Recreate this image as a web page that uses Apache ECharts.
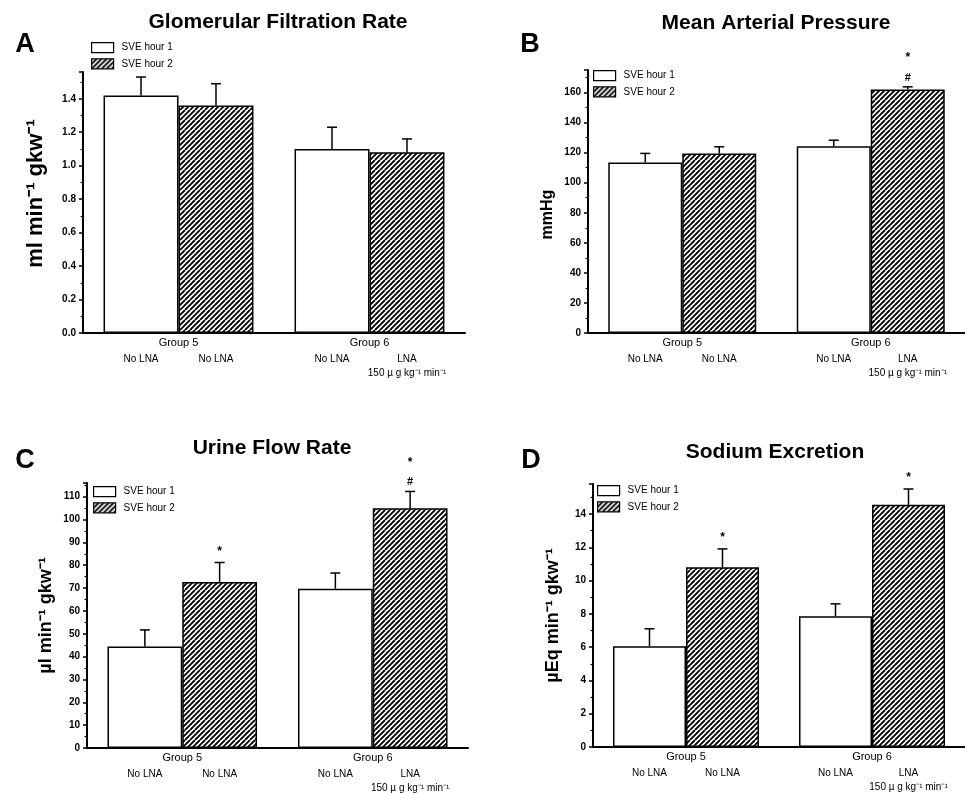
<!DOCTYPE html>
<html>
<head>
<meta charset="utf-8">
<script src="https://cdn.jsdelivr.net/npm/echarts@6/dist/echarts.min.js"></script>
<style>html,body{margin:0;padding:0;background:#fff}#c{width:965px;height:793px}</style>
</head>
<body>
<div id="c"></div>
<script>
// ---------------- data ----------------
const categories = ['Group 5', 'Group 6'];
const seriesNames = ['SVE hour 1', 'SVE hour 2'];

const gfrHour1 = [1.42, 1.10];
const gfrHour1Sem = [0.11, 0.13];
const gfrHour2 = [1.36, 1.08];
const gfrHour2Sem = [0.13, 0.08];

const mapHour1 = [113.5, 124.3];
const mapHour1Sem = [6.0, 4.0];
const mapHour2 = [119.5, 162.0];
const mapHour2Sem = [4.4, 1.8];

const ufrHour1 = [44.4, 69.7];
const ufrHour1Sem = [7.3, 6.9];
const ufrHour2 = [72.7, 105.0];
const ufrHour2Sem = [8.5, 7.3];

const naHour1 = [6.05, 7.85];
const naHour1Sem = [1.05, 0.75];
const naHour2 = [10.8, 14.55];
const naHour2Sem = [1.1, 0.95];

const gfrMarks2 = ['', ''];
const mapMarks2 = ['', '*#'];
const ufrMarks2 = ['*', '*#'];
const naMarks2 = ['*', '*'];
const noMarks = ['', ''];

const treatHour1 = ['No LNA', 'No LNA'];
const treatHour2 = ['No LNA', 'LNA'];
const doseHour1 = ['', ''];
const doseHour2 = ['', '150 \u00b5 g kg\u207b\u00b9 min\u207b\u00b9'];

const gfrTicks = {max: 1.56, interval: 0.2, digits: 1};
const mapTicks = {max: 175, interval: 20, digits: 0};
const ufrTicks = {max: 116, interval: 10, digits: 0};
const naTicks = {max: 15.8, interval: 2, digits: 0};

const panelTitles = ['Glomerular Filtration Rate', 'Mean Arterial Pressure', 'Urine Flow Rate', 'Sodium Excretion'];
const panelLetters = ['A', 'B', 'C', 'D'];
const yNames = ['ml min\u207b\u00b9 gkw\u207b\u00b9', 'mmHg', '\u00b5l min\u207b\u00b9 gkw\u207b\u00b9', '\u00b5Eq min\u207b\u00b9 gkw\u207b\u00b9'];

// ---------------- styling ----------------
const FONT = '"Liberation Sans", Arial, Helvetica, sans-serif';
const GAP = 0.215;

function hatch() {
  const c = document.createElement('canvas');
  c.width = 10; c.height = 10;
  const g = c.getContext('2d');
  g.fillStyle = '#fff'; g.fillRect(0, 0, 10, 10);
  g.strokeStyle = '#000'; g.lineWidth = 1.9;
  g.beginPath();
  for (let k = -10; k <= 15; k += 5) { g.moveTo(k, 10); g.lineTo(k + 10, 0); }
  g.stroke();
  return c;
}
const hatchFill = {image: hatch(), repeat: 'repeat'};

const panels = [
  {grid: {left: 83, top: 72, right: 500, bottom: 460}, ticks: gfrTicks, h1: gfrHour1, e1: gfrHour1Sem, h2: gfrHour2, e2: gfrHour2Sem, m2: gfrMarks2,
   nameGap: 36, nameSize: 22, namePad: [0, 0, 0, 18], legend: {left: 91, top: 42}, title: [278, 22], letter: [25, 45]},
  {grid: {left: 588, top: 70, right: 0, bottom: 460}, ticks: mapTicks, h1: mapHour1, e1: mapHour1Sem, h2: mapHour2, e2: mapHour2Sem, m2: mapMarks2,
   nameGap: 32, nameSize: 16, namePad: [0, 26, 0, 0], legend: {left: 593, top: 70}, title: [776, 23], letter: [530, 45]},
  {grid: {left: 87, top: 483, right: 497, bottom: 45}, ticks: ufrTicks, h1: ufrHour1, e1: ufrHour1Sem, h2: ufrHour2, e2: ufrHour2Sem, m2: ufrMarks2,
   nameGap: 32, nameSize: 18, namePad: [0, 0, 0, 0], legend: {left: 93, top: 486}, title: [272, 448], letter: [25, 461]},
  {grid: {left: 593, top: 484, right: 0, bottom: 46}, ticks: naTicks, h1: naHour1, e1: naHour1Sem, h2: naHour2, e2: naHour2Sem, m2: naMarks2,
   nameGap: 31, nameSize: 18, namePad: [0, 0, 0, 0], legend: {left: 597, top: 485}, title: [775, 452], letter: [531, 461]}
];

function errSeries(gi, s, means, sems, marks, treat, dose) {
  return {
    type: 'custom', xAxisIndex: gi, yAxisIndex: gi, z: 5, clip: false, silent: true,
    data: means.map((m, i) => [i, m + sems[i], m]),
    renderItem: function (params, api) {
      const i = api.value(0), top = api.value(1), mean = api.value(2);
      const band = api.size([1, 0])[0];
      const bw = band * (1 - GAP) / 2;
      const p0 = api.coord([i, 0]);
      const pm = api.coord([i, mean]);
      const pt = api.coord([i, top]);
      const x = p0[0] + (s === 0 ? -bw / 2 : bw / 2);
      const ls = {stroke: '#000', lineWidth: 1.5};
      const ch = [
        {type: 'line', shape: {x1: x, y1: pm[1], x2: x, y2: pt[1]}, style: ls},
        {type: 'line', shape: {x1: x - 5, y1: pt[1], x2: x + 5, y2: pt[1]}, style: ls}
      ];
      const mk = marks[i];
      const tStyle = (t, y, fs, fw) => ({type: 'text', x: x, y: y, style: {text: t, fontSize: fs, fontWeight: fw || 'normal', fontFamily: FONT, fill: '#000', align: 'center', verticalAlign: 'middle'}});
      if (mk === '*') ch.push(tStyle('*', pt[1] - 11, 12, 'bold'));
      if (mk === '*#') { ch.push(tStyle('#', pt[1] - 9, 11, 'bold')); ch.push(tStyle('*', pt[1] - 29, 12, 'bold')); }
      if (treat[i]) ch.push(tStyle(treat[i], p0[1] + 26, 10));
      if (dose[i]) ch.push(tStyle(dose[i], p0[1] + 40, 10));
      return {type: 'group', children: ch};
    }
  };
}

const option = {
  backgroundColor: '#fff',
  animation: false,
  textStyle: {fontFamily: FONT},
  grid: [], xAxis: [], yAxis: [], series: [], legend: [], graphic: []
};

panels.forEach((p, gi) => {
  option.grid.push(Object.assign({containLabel: false}, p.grid));
  option.xAxis.push({
    type: 'category', gridIndex: gi, data: categories,
    axisLine: {lineStyle: {color: '#000', width: 2}},
    axisTick: {show: false},
    axisLabel: {fontSize: 11, color: '#000', margin: 4, fontFamily: FONT}
  });
  const tk = p.ticks;
  option.yAxis.push({
    type: 'value', gridIndex: gi, min: 0, max: tk.max, interval: tk.interval,
    axisLine: {show: true, lineStyle: {color: '#000', width: 2}},
    axisTick: {show: true, length: 4, lineStyle: {color: '#000', width: 1.5}},
    minorTick: {show: true, splitNumber: 2, length: 2.5, lineStyle: {color: '#000', width: 1.2}},
    splitLine: {show: false},
    axisLabel: {
      fontSize: 10, fontWeight: 'bold', color: '#000', margin: 7, fontFamily: FONT,
      formatter: v => { const r = v / tk.interval; return Math.abs(r - Math.round(r)) > 1e-6 ? '' : v.toFixed(tk.digits); }
    },
    name: yNames[gi], nameLocation: 'middle', nameRotate: 90, nameGap: p.nameGap,
    nameTextStyle: {fontSize: p.nameSize, fontWeight: 'bold', color: '#000', fontFamily: FONT, padding: p.namePad}
  });
  option.series.push({
    name: seriesNames[0], type: 'bar', xAxisIndex: gi, yAxisIndex: gi, data: p.h1,
    barGap: '0%', barCategoryGap: (GAP * 100) + '%',
    itemStyle: {color: '#fff', borderColor: '#000', borderWidth: 1.5}
  });
  option.series.push({
    name: seriesNames[1], type: 'bar', xAxisIndex: gi, yAxisIndex: gi, data: p.h2,
    barGap: '0%', barCategoryGap: (GAP * 100) + '%',
    itemStyle: {color: hatchFill, borderColor: '#000', borderWidth: 1.5}
  });
  option.series.push(errSeries(gi, 0, p.h1, p.e1, noMarks, treatHour1, doseHour1));
  option.series.push(errSeries(gi, 1, p.h2, p.e2, p.m2, treatHour2, doseHour2));
  option.legend.push({
    left: p.legend.left, top: p.legend.top, orient: 'vertical', data: seriesNames, padding: 0,
    itemWidth: 22, itemHeight: 10, itemGap: 5, icon: 'rect', selectedMode: false,
    itemStyle: {borderColor: '#000', borderWidth: 1.2},
    textStyle: {fontSize: 10, color: '#000', fontFamily: FONT, padding: [0, 0, 0, 3]}
  });
  option.graphic.push({type: 'text', x: p.title[0], y: p.title[1], style: {text: panelTitles[gi], fontSize: 21, fontWeight: 'bold', fontFamily: FONT, fill: '#000', align: 'center', verticalAlign: 'middle'}});
  option.graphic.push({type: 'text', x: p.letter[0], y: p.letter[1], style: {text: panelLetters[gi], fontSize: 27, fontWeight: 'bold', fontFamily: FONT, fill: '#000', align: 'center', verticalAlign: 'middle'}});
});

const chart = echarts.init(document.getElementById('c'), null, {renderer: 'canvas'});
chart.setOption(option);
</script>
</body>
</html>
